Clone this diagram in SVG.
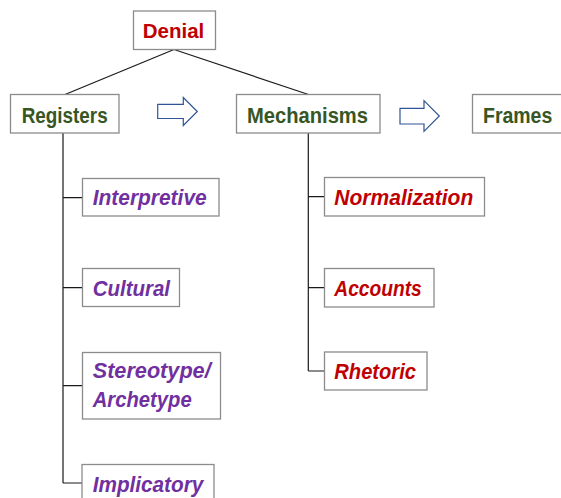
<svg xmlns="http://www.w3.org/2000/svg" width="561" height="498" viewBox="0 0 561 498">
<style>
.box{fill:#fff;stroke:#8c8c8c;stroke-width:1.3}
.t{font-family:"Liberation Sans",Arial,sans-serif;font-weight:bold}
.g{fill:#375623;font-size:22px}
.r{fill:#C00000}
.p{fill:#7030A0}
.i{font-style:italic;font-size:22px}
.ln{stroke:#1a1a1a;stroke-width:1.2;fill:none}
.ar{fill:#fff;stroke:#2F5597;stroke-width:1.2;stroke-linejoin:miter}
</style>
<rect width="561" height="498" fill="#fff"/>
<g id="connectors">
<line class="ln" x1="174" y1="49.5" x2="65" y2="94.5"/>
<line class="ln" x1="174" y1="49.5" x2="308.5" y2="94.5"/>
<path class="ln" d="M63,133 V483 M63,197.7 H82.5 M63,287.7 H82.5 M63,385.7 H82.5 M63,483 H82.5"/>
<path class="ln" d="M308.3,133 V371 M308.3,196.7 H324.5 M308.3,287.7 H324.5 M308.3,371 H324.5"/>
<path class="ar" d="M157.7,104.3 H183.3 V97.5 L197.3,111.5 L183.3,125.5 V118.5 H157.7 Z"/>
<path class="ar" d="M400,108.3 H424 V100.7 L439.3,116 L424,131.3 V124 H400 Z"/>
</g>
<g id="denial">
<rect class="box" x="133.5" y="11" width="82" height="38.5"/>
<text class="t r" x="142.7" y="37.5" font-size="20.5" textLength="61.6" lengthAdjust="spacingAndGlyphs">Denial</text>
</g>
<g id="registers">
<rect class="box" x="10.5" y="94.5" width="108.5" height="38.5"/>
<text class="t g" x="21.7" y="122.7" textLength="86" lengthAdjust="spacingAndGlyphs">Registers</text>
</g>
<g id="mechanisms">
<rect class="box" x="236.5" y="94.5" width="143.5" height="38.5"/>
<text class="t g" x="247" y="122.7" textLength="121" lengthAdjust="spacingAndGlyphs">Mechanisms</text>
</g>
<g id="frames">
<rect class="box" x="472.5" y="94.5" width="100" height="38.5"/>
<text class="t g" x="483" y="122.5" textLength="69.3" lengthAdjust="spacingAndGlyphs">Frames</text>
</g>
<g id="interpretive">
<rect class="box" x="82.5" y="178.5" width="136.5" height="37.5"/>
<text class="t i p" x="92.7" y="205" textLength="114" lengthAdjust="spacingAndGlyphs">Interpretive</text>
</g>
<g id="cultural">
<rect class="box" x="82.5" y="268.5" width="97" height="38"/>
<text class="t i p" x="92.7" y="295.7" textLength="77.3" lengthAdjust="spacingAndGlyphs">Cultural</text>
</g>
<g id="stereotype">
<rect class="box" x="82.5" y="352.5" width="138" height="66.5"/>
<text class="t i p" x="92.7" y="378" textLength="118" lengthAdjust="spacingAndGlyphs">Stereotype/</text>
<text class="t i p" x="92.7" y="406.7" textLength="99" lengthAdjust="spacingAndGlyphs">Archetype</text>
</g>
<g id="implicatory">
<rect class="box" x="82" y="464.5" width="132" height="50"/>
<text class="t i p" x="92.7" y="491.7" textLength="110.6" lengthAdjust="spacingAndGlyphs">Implicatory</text>
</g>
<g id="normalization">
<rect class="box" x="324.5" y="177.5" width="160" height="38.5"/>
<text class="t i r" x="334.3" y="204.7" textLength="139" lengthAdjust="spacingAndGlyphs">Normalization</text>
</g>
<g id="accounts">
<rect class="box" x="324.5" y="268.5" width="109.5" height="38.5"/>
<text class="t i r" x="334.3" y="296" textLength="87.4" lengthAdjust="spacingAndGlyphs">Accounts</text>
</g>
<g id="rhetoric">
<rect class="box" x="324.5" y="352" width="102.5" height="38"/>
<text class="t i r" x="334.3" y="379" textLength="81.7" lengthAdjust="spacingAndGlyphs">Rhetoric</text>
</g>
</svg>
